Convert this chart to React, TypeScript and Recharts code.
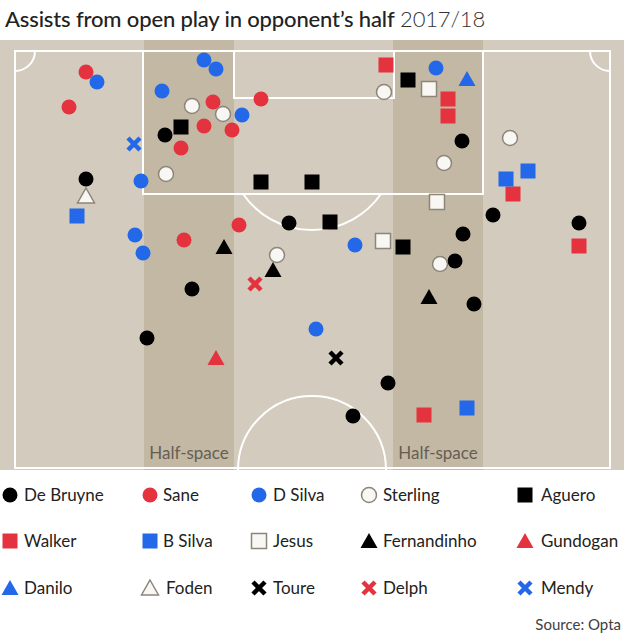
import React from 'react';
import { ScatterChart, Scatter, XAxis, YAxis, ReferenceArea, ReferenceDot } from 'recharts';

const TITLE = 'Assists from open play in opponent’s half';
const SEASON = '2017/18';
const SOURCE = 'Source: Opta';
const HALF_SPACE = 'Half-space';

// Assist locations in pitch units of the graphic (x across the pitch, y down from the goal end)
const deBruyne = [
  { x: 165, y: 135 }, { x: 86, y: 179 }, { x: 289, y: 223 }, { x: 192, y: 289 },
  { x: 147, y: 338 }, { x: 462, y: 141 }, { x: 493, y: 215 }, { x: 579, y: 223 },
  { x: 463, y: 234 }, { x: 455, y: 261 }, { x: 474, y: 304 }, { x: 388, y: 383 },
  { x: 353, y: 416 },
];
const sane = [
  { x: 86, y: 72 }, { x: 69, y: 107 }, { x: 213, y: 102 }, { x: 261, y: 99 },
  { x: 204, y: 126 }, { x: 232, y: 130 }, { x: 181, y: 148 }, { x: 239, y: 225 },
  { x: 184, y: 240 },
];
const dSilva = [
  { x: 97, y: 82 }, { x: 204, y: 60 }, { x: 216, y: 69 }, { x: 162, y: 91 },
  { x: 242, y: 115 }, { x: 141, y: 181 }, { x: 135, y: 235 }, { x: 143, y: 253 },
  { x: 316, y: 329 }, { x: 355, y: 245 }, { x: 436, y: 68 },
];
const sterling = [
  { x: 192, y: 106 }, { x: 223, y: 114 }, { x: 166, y: 174 }, { x: 277, y: 255 },
  { x: 384, y: 92 }, { x: 510, y: 138 }, { x: 444, y: 163 }, { x: 440, y: 264 },
];
const aguero = [
  { x: 181, y: 127 }, { x: 261, y: 182 }, { x: 312, y: 182 }, { x: 408, y: 80 },
  { x: 330, y: 222 }, { x: 403, y: 247 },
];
const walker = [
  { x: 386, y: 65 }, { x: 448, y: 99 }, { x: 448, y: 116 }, { x: 513, y: 194 },
  { x: 579, y: 246 }, { x: 424, y: 415 },
];
const bSilva = [{ x: 77, y: 216 }, { x: 506, y: 179 }, { x: 528, y: 171 }, { x: 467, y: 408 }];
const jesus = [{ x: 429, y: 89 }, { x: 437, y: 202 }, { x: 383, y: 241 }];
const fernandinho = [{ x: 224, y: 247 }, { x: 273, y: 270 }, { x: 429, y: 297 }];
const gundogan = [{ x: 216, y: 358 }];
const danilo = [{ x: 467, y: 79 }];
const foden = [{ x: 86, y: 196 }];
const toure = [{ x: 336, y: 358 }];
const delph = [{ x: 255, y: 284 }];
const mendy = [{ x: 134, y: 144 }];

// Pitch markings (same units)
const PITCH_X = [0, 624];
const PITCH_Y = [40, 470];
const TOUCH_L = 15, TOUCH_R = 610, GOAL_LINE = 51, HALFWAY = 468;
const BOX = { x1: 143, x2: 483, y2: 194 };
const SIX = { x1: 234, x2: 394, y2: 98 };
const BANDS = [{ x1: 144, x2: 234 }, { x1: 393, x2: 483 }];
const PEN_SPOT = { x: 312, y: 146, r: 84 };
const CENTRE = { x: 312, y: 470, r: 74 };
const CORNER_R = 20;

const RED = '#e5323f';
const BLUE = '#2268e8';
const BLACK = '#000000';
const WHITE = '#f8f7f4';
const GREY = '#8d857a';
const PITCH = '#d3cbbd';
const BAND = '#c2b8a4';
const LINE = '#ffffff';

type Kind = 'circle' | 'square' | 'triangle' | 'cross';

const drawMarker = (kind: Kind, fill: string, stroke: string | null, cx: number, cy: number, key?: any) => {
  const sw = stroke ? 1.5 : 0;
  const st = stroke || 'none';
  if (kind === 'circle') return <circle key={key} cx={cx} cy={cy} r={7.5} fill={fill} stroke={st} strokeWidth={sw} />;
  if (kind === 'square') return <rect key={key} x={cx - 7.5} y={cy - 7.5} width={15} height={15} fill={fill} stroke={st} strokeWidth={sw} />;
  if (kind === 'triangle')
    return <path key={key} d={`M${cx},${cy - 8} L${cx + 8.5},${cy + 7} L${cx - 8.5},${cy + 7} Z`} fill={fill} stroke={st} strokeWidth={sw} />;
  return (
    <path key={key} d={`M${cx - 6},${cy - 6} L${cx + 6},${cy + 6} M${cx + 6},${cy - 6} L${cx - 6},${cy + 6}`} stroke={fill} strokeWidth={4.5} fill="none" />
  );
};

const players: { name: string; data: { x: number; y: number }[]; kind: Kind; fill: string; stroke: string | null }[] = [
  { name: 'De Bruyne', data: deBruyne, kind: 'circle', fill: BLACK, stroke: null },
  { name: 'Sane', data: sane, kind: 'circle', fill: RED, stroke: null },
  { name: 'D Silva', data: dSilva, kind: 'circle', fill: BLUE, stroke: null },
  { name: 'Sterling', data: sterling, kind: 'circle', fill: WHITE, stroke: GREY },
  { name: 'Aguero', data: aguero, kind: 'square', fill: BLACK, stroke: null },
  { name: 'Walker', data: walker, kind: 'square', fill: RED, stroke: null },
  { name: 'B Silva', data: bSilva, kind: 'square', fill: BLUE, stroke: null },
  { name: 'Jesus', data: jesus, kind: 'square', fill: WHITE, stroke: GREY },
  { name: 'Fernandinho', data: fernandinho, kind: 'triangle', fill: BLACK, stroke: null },
  { name: 'Gundogan', data: gundogan, kind: 'triangle', fill: RED, stroke: null },
  { name: 'Danilo', data: danilo, kind: 'triangle', fill: BLUE, stroke: null },
  { name: 'Foden', data: foden, kind: 'triangle', fill: WHITE, stroke: GREY },
  { name: 'Toure', data: toure, kind: 'cross', fill: BLACK, stroke: null },
  { name: 'Delph', data: delph, kind: 'cross', fill: RED, stroke: null },
  { name: 'Mendy', data: mendy, kind: 'cross', fill: BLUE, stroke: null },
];

const LEGEND_MARK_X = [10, 150, 259, 369, 525];
const LEGEND_TEXT_X = [24, 163, 273, 383, 541];
const LEGEND_ROW_Y = [495, 541, 588];

const FONT = 'Lato, "Open Sans", sans-serif';

const penArc = (p: any) => {
  const r = PEN_SPOT.r;
  const d = BOX.y2 - PEN_SPOT.y;
  const hw = Math.sqrt(r * r - d * d);
  return <path d={`M${p.cx - hw},${p.cy + d} A${r},${r} 0 0 0 ${p.cx + hw},${p.cy + d}`} fill="none" stroke={LINE} strokeWidth={2} />;
};
const centreArc = (p: any) => {
  const r = CENTRE.r;
  return <path d={`M${p.cx - r},${p.cy} A${r},${r} 0 0 1 ${p.cx + r},${p.cy}`} fill="none" stroke={LINE} strokeWidth={2} />;
};
const cornerL = (p: any) => (
  <path d={`M${p.cx + CORNER_R},${p.cy} A${CORNER_R},${CORNER_R} 0 0 1 ${p.cx},${p.cy + CORNER_R}`} fill="none" stroke={LINE} strokeWidth={2} />
);
const cornerR = (p: any) => (
  <path d={`M${p.cx - CORNER_R},${p.cy} A${CORNER_R},${CORNER_R} 0 0 0 ${p.cx},${p.cy + CORNER_R}`} fill="none" stroke={LINE} strokeWidth={2} />
);

export default function App() {
  return (
    <div style={{ position: 'absolute', left: 0, top: 0, width: 624, height: 636, background: '#fff', fontFamily: FONT, overflow: 'hidden' }}>
      <div style={{ position: 'absolute', left: 5, top: 4, fontSize: 22, letterSpacing: -0.15, lineHeight: '30px', color: '#222', whiteSpace: 'nowrap' }}>
        <span style={{ fontWeight: 500 }}>{TITLE}</span> <span style={{ fontWeight: 300, color: '#333' }}>{SEASON}</span>
      </div>
      <div style={{ position: 'absolute', left: 0, top: 40 }}>
        <ScatterChart width={624} height={430} margin={{ top: 0, right: 0, bottom: 0, left: 0 }}>
          <XAxis type="number" dataKey="x" domain={PITCH_X} hide allowDataOverflow />
          <YAxis type="number" dataKey="y" domain={PITCH_Y} reversed hide allowDataOverflow />
          <ReferenceArea x1={PITCH_X[0]} x2={PITCH_X[1]} y1={PITCH_Y[0]} y2={PITCH_Y[1]} fill={PITCH} fillOpacity={1} stroke="none" />
          {BANDS.map((b, i) => (
            <ReferenceArea
              key={'band' + i}
              x1={b.x1}
              x2={b.x2}
              y1={PITCH_Y[0]}
              y2={PITCH_Y[1]}
              fill={BAND}
              fillOpacity={1}
              stroke="none"
              label={{ value: HALF_SPACE, position: 'insideBottom', offset: 11, fill: '#665e53', fontSize: 17, fontFamily: FONT }}
            />
          ))}
          <ReferenceArea x1={TOUCH_L} x2={TOUCH_R} y1={GOAL_LINE} y2={HALFWAY} fill="none" fillOpacity={0} stroke={LINE} strokeWidth={2} />
          <ReferenceArea x1={BOX.x1} x2={BOX.x2} y1={GOAL_LINE} y2={BOX.y2} fill="none" fillOpacity={0} stroke={LINE} strokeWidth={2} />
          <ReferenceArea x1={SIX.x1} x2={SIX.x2} y1={GOAL_LINE} y2={SIX.y2} fill="none" fillOpacity={0} stroke={LINE} strokeWidth={2} />
          <ReferenceDot x={PEN_SPOT.x} y={PEN_SPOT.y} r={PEN_SPOT.r} shape={penArc} ifOverflow="visible" />
          <ReferenceDot x={CENTRE.x} y={CENTRE.y} r={CENTRE.r} shape={centreArc} ifOverflow="visible" />
          <ReferenceDot x={TOUCH_L} y={GOAL_LINE} r={CORNER_R} shape={cornerL} ifOverflow="visible" />
          <ReferenceDot x={TOUCH_R} y={GOAL_LINE} r={CORNER_R} shape={cornerR} ifOverflow="visible" />
          {players.map((p) => (
            <Scatter
              key={p.name}
              name={p.name}
              data={p.data}
              isAnimationActive={false}
              shape={(props: any) => drawMarker(p.kind, p.fill, p.stroke, props.cx, props.cy)}
            />
          ))}
        </ScatterChart>
      </div>
      {players.map((p, i) => {
        const row = Math.floor(i / 5);
        const col = i % 5;
        const y = LEGEND_ROW_Y[row];
        return (
          <React.Fragment key={'lg' + p.name}>
            <svg style={{ position: 'absolute', left: LEGEND_MARK_X[col] - 10, top: y - 10 }} width={20} height={20}>
              {drawMarker(p.kind, p.fill, p.stroke, 10, 10)}
            </svg>
            <div style={{ position: 'absolute', left: LEGEND_TEXT_X[col] + (p.kind === 'triangle' && col === 1 ? 3 : 0), top: y - 12, fontSize: 17, lineHeight: '24px', color: '#222', whiteSpace: 'nowrap' }}>
              {p.name}
            </div>
          </React.Fragment>
        );
      })}
      <div style={{ position: 'absolute', right: 3, top: 613, fontSize: 15, lineHeight: '22px', color: '#404040' }}>{SOURCE}</div>
    </div>
  );
}
